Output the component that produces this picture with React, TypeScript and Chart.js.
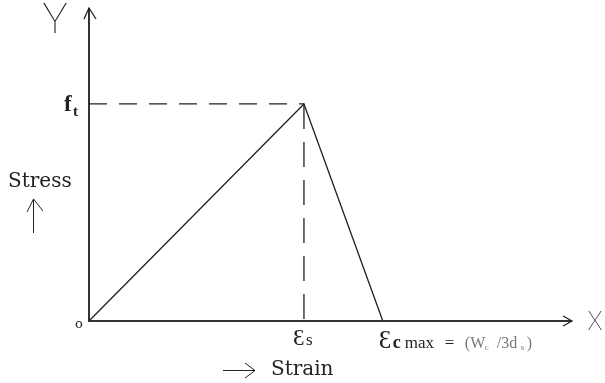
import React, { useEffect, useRef } from "react";
import { Chart, registerables } from "chart.js";

Chart.register(...registerables);

// Data (normalized units: strain relative to εs, stress relative to ft)
const curveStrain = [0, 1, 1.367];
const curveStress = [0, 1, 0];
const epsS = 1;
const epsCmax = 1.367;
const ft = 1;
const xMax = 2.247;
const yMax = 1.442;

const SERIF = "'DejaVu Serif', 'Liberation Serif', serif";
const TIMES = "'Liberation Serif', serif";
const THIN = "Roboto, Inter, 'DejaVu Sans', sans-serif";

const labelsPlugin = {
  id: "labels",
  afterDraw(chart: any) {
    const ctx = chart.ctx;
    const xs = chart.scales.x;
    const ys = chart.scales.y;
    const x0 = xs.getPixelForValue(0);
    const y0 = ys.getPixelForValue(0);
    const xE = xs.getPixelForValue(xMax);
    const yE = ys.getPixelForValue(yMax);
    const xS = xs.getPixelForValue(epsS);
    const xC = xs.getPixelForValue(epsCmax);
    const yF = ys.getPixelForValue(ft);
    ctx.save();
    ctx.strokeStyle = "#222";
    ctx.lineWidth = 1.3;
    // y arrowhead
    ctx.beginPath();
    ctx.moveTo(x0 - 5, yE + 11);
    ctx.lineTo(x0, yE);
    ctx.lineTo(x0 + 7, yE + 11);
    ctx.stroke();
    // x arrowhead
    ctx.beginPath();
    ctx.moveTo(xE - 9, y0 - 5);
    ctx.lineTo(xE, y0);
    ctx.lineTo(xE - 9, y0 + 5);
    ctx.stroke();
    // stress arrow
    ctx.lineWidth = 1;
    ctx.beginPath();
    ctx.moveTo(33.5, 233);
    ctx.lineTo(33.5, 199);
    ctx.moveTo(27, 212);
    ctx.lineTo(33.5, 199);
    ctx.lineTo(43, 211);
    ctx.stroke();
    // strain arrow
    ctx.beginPath();
    ctx.moveTo(223, 370.5);
    ctx.lineTo(255, 370.5);
    ctx.moveTo(245, 363);
    ctx.lineTo(255, 370.5);
    ctx.lineTo(245, 378);
    ctx.stroke();

    ctx.fillStyle = "#222";
    ctx.textBaseline = "alphabetic";
    // Y and X
    ctx.textAlign = "center";
    ctx.font = `100 42px ${THIN}`;
    ctx.fillText("Y", 55, 33);
    ctx.font = `100 25px ${THIN}`;
    ctx.fillText("X", 595, y0 + 9);
    // origin
    ctx.font = `13px ${SERIF}`;
    ctx.fillText("o", x0 - 10, y0 + 7);
    // Stress / Strain
    ctx.textAlign = "left";
    ctx.font = `20px ${SERIF}`;
    ctx.fillText("Stress", 8, 187);
    ctx.fillText("Strain", 271, 375);
    // f_t
    ctx.font = `bold 23px ${TIMES}`;
    ctx.fillText("f", 64, yF + 7);
    ctx.font = `bold 15px ${TIMES}`;
    ctx.fillText("t", 73, yF + 12);
    // eps_s
    ctx.font = `23px ${TIMES}`;
    ctx.fillText("Ɛ", xS - 11, y0 + 24);
    ctx.font = `17px ${TIMES}`;
    ctx.fillText("s", xS + 2, y0 + 24);
    // eps_cmax
    ctx.font = `25px ${TIMES}`;
    ctx.fillText("Ɛ", xC - 4, y0 + 27);
    ctx.font = `bold 18px ${TIMES}`;
    ctx.fillText("c", xC + 10, y0 + 27);
    ctx.font = `17px ${TIMES}`;
    ctx.fillText("max", xC + 22, y0 + 27);
    ctx.fillText("=", xC + 62, y0 + 27);
    ctx.fillStyle = "#777";
    ctx.font = `16px ${TIMES}`;
    ctx.fillText("(W", xC + 82, y0 + 27);
    ctx.font = `9px ${TIMES}`;
    ctx.fillText("c", xC + 102, y0 + 29);
    ctx.font = `16px ${TIMES}`;
    ctx.fillText("/3d", xC + 114, y0 + 27);
    ctx.font = `9px ${TIMES}`;
    ctx.fillText("s", xC + 138, y0 + 29);
    ctx.font = `16px ${TIMES}`;
    ctx.fillText(")", xC + 144, y0 + 27);
    ctx.restore();
  },
};

export default function App() {
  const ref = useRef<HTMLCanvasElement>(null);
  useEffect(() => {
    if (!ref.current) return;
    const chart = new Chart(ref.current, {
      type: "scatter",
      data: {
        datasets: [
          {
            data: curveStrain.map((x, i) => ({ x, y: curveStress[i] })),
            showLine: true,
            borderColor: "#222",
            borderWidth: 1.3,
            pointRadius: 0,
          },
          {
            data: [
              { x: 0, y: ft },
              { x: epsS, y: ft },
            ],
            showLine: true,
            borderColor: "#222",
            borderWidth: 1.3,
            borderDash: [18, 12],
            pointRadius: 0,
          },
          {
            data: [
              { x: epsS, y: ft },
              { x: epsS, y: 0 },
            ],
            showLine: true,
            borderColor: "#222",
            borderWidth: 1.3,
            borderDash: [25, 13],
            pointRadius: 0,
          },
          {
            data: [
              { x: 0, y: yMax },
              { x: 0, y: 0 },
              { x: xMax, y: 0 },
            ],
            showLine: true,
            borderColor: "#333",
            borderWidth: 2,
            pointRadius: 0,
          },
        ] as any,
      },
      options: {
        animation: false,
        responsive: false,
        clip: false as any,
        layout: { padding: { left: 89, right: 33, top: 8, bottom: 62 } },
        scales: {
          x: { type: "linear", min: 0, max: xMax, display: false },
          y: { type: "linear", min: 0, max: yMax, display: false },
        },
        plugins: { legend: { display: false }, tooltip: { enabled: false } },
      },
      plugins: [labelsPlugin],
    });
    return () => chart.destroy();
  }, []);
  return (
    <div style={{ position: "fixed", left: 0, top: 0, width: 605, height: 383, background: "#fff" }}>
      <canvas ref={ref} width={605} height={383} />
    </div>
  );
}
